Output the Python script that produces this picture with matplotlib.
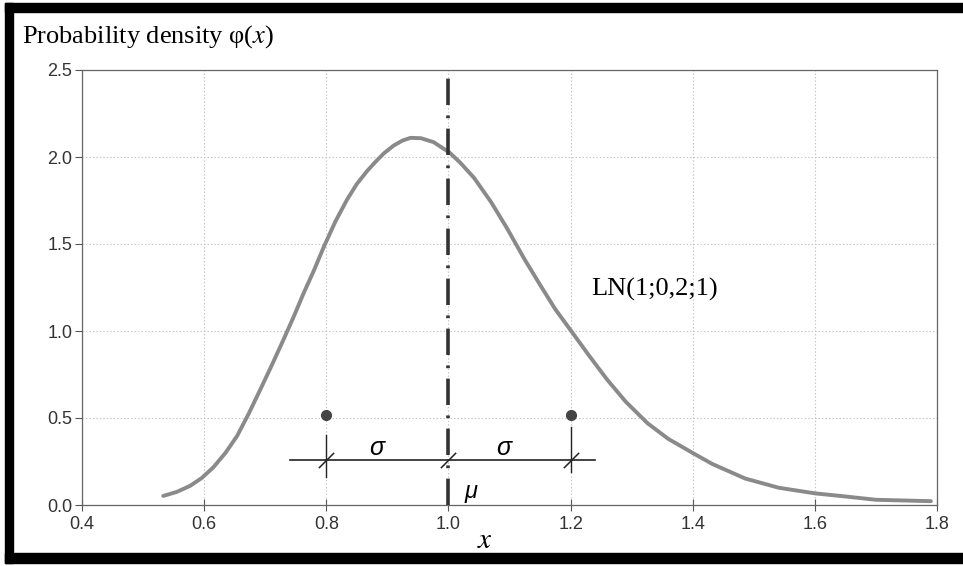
import matplotlib
matplotlib.use("Agg")
import matplotlib.pyplot as plt
import numpy as np
from matplotlib.patches import Rectangle
from matplotlib.path import Path

plt.rcParams['lines.scale_dashes'] = False
plt.rcParams['mathtext.fontset'] = 'stix'

# curve (x, density)
x_curve = [0.533, 0.555, 0.577, 0.596, 0.615, 0.635, 0.654, 0.673, 0.692, 0.711,
           0.730, 0.747, 0.763, 0.780, 0.796, 0.815, 0.834, 0.850, 0.867, 0.880,
           0.894, 0.910, 0.925, 0.938, 0.955, 0.976, 1.002, 1.020, 1.042, 1.070,
           1.096, 1.125, 1.151, 1.175, 1.200, 1.230, 1.260, 1.290, 1.326, 1.360,
           1.400, 1.432, 1.486, 1.541, 1.600, 1.650, 1.700, 1.790]
y_curve = [0.052, 0.075, 0.110, 0.155, 0.216, 0.300, 0.397, 0.525, 0.664, 0.805,
           0.951, 1.085, 1.218, 1.350, 1.484, 1.630, 1.755, 1.845, 1.920, 1.970,
           2.020, 2.065, 2.095, 2.110, 2.108, 2.085, 2.025, 1.965, 1.880, 1.740,
           1.590, 1.410, 1.260, 1.125, 1.005, 0.860, 0.720, 0.595, 0.470, 0.380,
           0.299, 0.236, 0.152, 0.099, 0.067, 0.049, 0.030, 0.022]

mu = 1.0
sigma = 0.2
dim_y = 0.26
dot_y = 0.52
x_ticks = [0.4, 0.6, 0.8, 1.0, 1.2, 1.4, 1.6, 1.8]
y_ticks = [0.0, 0.5, 1.0, 1.5, 2.0, 2.5]

W, H = 963, 566
fig = plt.figure(figsize=(W / 100, H / 100), dpi=100)

# black scan frame (top, left, bottom)
def px_rect(x0, y0, x1, y1):
    fig.add_artist(Rectangle((x0 / W, 1 - y1 / H), (x1 - x0) / W, (y1 - y0) / H,
                             transform=fig.transFigure, color='black', zorder=5))

px_rect(5, 3, W, 12)
px_rect(5, 3, 13, 563)
px_rect(5, 553, W, 563)

ax = fig.add_axes([82 / W, (H - 505) / H, (937 - 82) / W, (505 - 70) / H])

ax.plot(x_curve, y_curve, color='#8a8a8a', lw=2.8, solid_capstyle='round',
        solid_joinstyle='round', zorder=3)

# mean line
ax.plot([mu, mu], [0, 2.47], color='#333333', lw=2.6,
        linestyle=(0, (19, 7.5, 2, 7.5)), zorder=4)

# sigma dimension
ax.plot([mu - sigma - 0.06, mu + sigma + 0.04], [dim_y, dim_y], color='#222222', lw=1.2, zorder=4)
ax.plot([mu - sigma, mu - sigma], [0.16, 0.40], color='#222222', lw=1.0, zorder=4)
ax.plot([mu + sigma, mu + sigma], [0.19, 0.45], color='#222222', lw=1.0, zorder=4)
slash = Path([(-1, -1), (1, 1)], [Path.MOVETO, Path.LINETO])
ax.plot([mu - sigma, mu, mu + sigma], [dim_y] * 3, linestyle='none', marker=slash,
        markersize=11, markeredgecolor='#222222', markeredgewidth=1.1, zorder=5)
ax.plot([mu - sigma, mu + sigma], [dot_y, dot_y], linestyle='none', marker='o',
        markersize=7, color='#444444', zorder=5)

ax.text(0.882, 0.33, 'σ', fontsize=18, style='italic', family='Liberation Sans',
        ha='center', va='center')
ax.text(1.09, 0.33, 'σ', fontsize=18, style='italic', family='Liberation Sans',
        ha='center', va='center')
ax.text(1.037, 0.08, 'μ', fontsize=17, style='italic', family='Liberation Sans',
        ha='center', va='center')
ax.text(1.338, 1.236, 'LN(1;0,2;1)', fontsize=19, family='Liberation Serif',
        ha='center', va='center')

ax.set_xlim(0.4, 1.8)
ax.set_ylim(0, 2.5)
ax.set_xticks(x_ticks)
ax.set_yticks(y_ticks)
ax.set_xticklabels([f'{v:.1f}' for v in x_ticks])
ax.set_yticklabels([f'{v:.1f}' for v in y_ticks])
for lab in ax.get_xticklabels() + ax.get_yticklabels():
    lab.set_family('Liberation Sans')
    lab.set_fontsize(13)
    lab.set_color('#333333')
ax.tick_params(axis='x', direction='inout', length=8, width=0.8, color='#555555', pad=4)
ax.tick_params(axis='y', direction='out', length=5, width=0.8, color='#555555', pad=2)

ax.grid(True, linestyle=(0, (1, 1.5)), color='#c4c4c4', linewidth=0.8)
ax.set_axisbelow(True)
for s in ax.spines.values():
    s.set_color('#666666')
    s.set_linewidth(0.9)

ax.set_xlabel('$x$', fontsize=21)
ax.xaxis.set_label_coords((485 - 82) / (937 - 82), -0.048)

fig.text(22 / W, 1 - 43 / H, 'Probability density φ($x$)', fontsize=19,
         family='Liberation Serif', va='baseline', ha='left')

fig.savefig('out.png', dpi=100)
